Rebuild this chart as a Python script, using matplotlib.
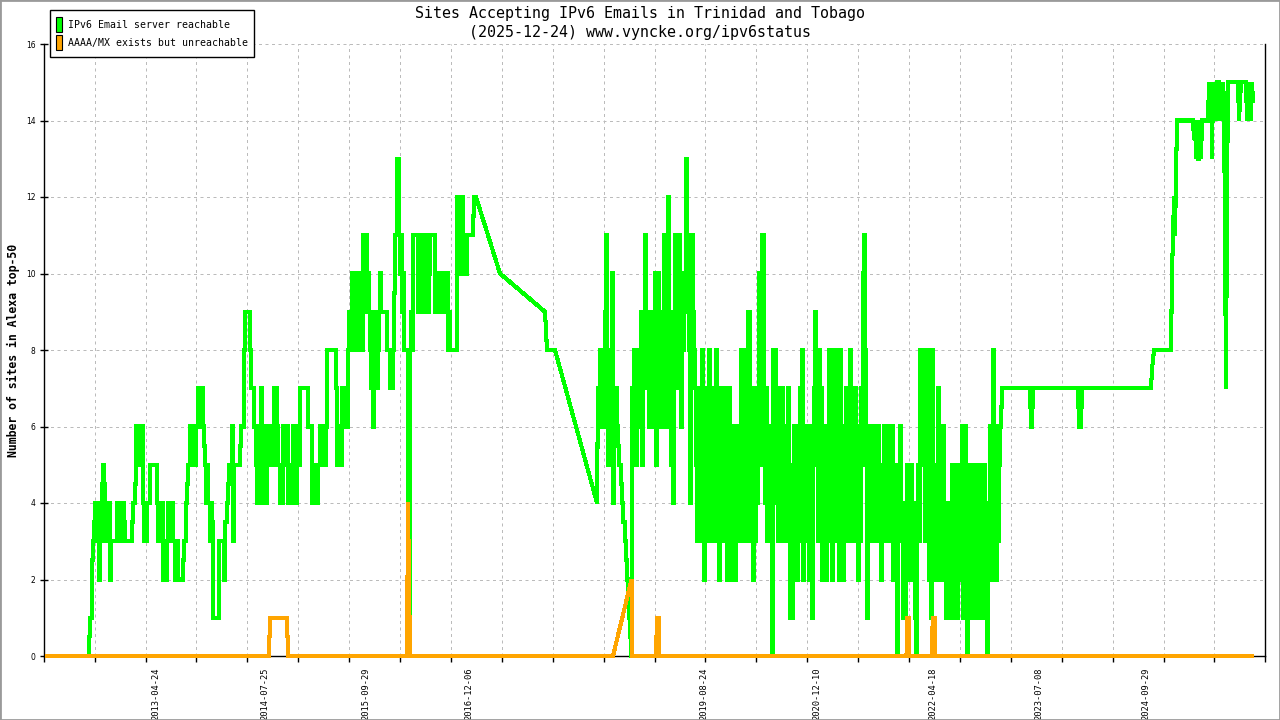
import numpy as np
import matplotlib
matplotlib.use("Agg")
import matplotlib.pyplot as plt
from matplotlib.patches import Rectangle

# ---------------- data (x positions are sample positions along the time axis) ----------------
# green: "IPv6 Email server reachable"
green_zero_x = [47, 89]
green_zero_y = [0, 0]

green_a_x0 = 90          # one sample per step, starting at position 90
green_a = [
    1, 1, 2.5, 3, 3.5, 4, 3, 4, 3, 2,
    3, 3, 4.5, 5, 4.5, 4, 3, 4, 3, 4,
    2, 3, 3, 3, 3, 3, 3, 4, 3, 4,
    3.5, 4, 3, 4, 3.5, 3, 3, 3, 3, 3,
    3, 3, 3.5, 4, 4, 4.5, 6, 5, 6, 5,
    6, 5.5, 6, 4, 3, 4, 3, 4, 4, 4,
    5, 5, 5, 5, 5, 5, 5, 4, 3, 3,
    3, 3, 4, 2, 2, 2, 2, 3, 4, 3,
    4, 4, 4, 3, 3, 2, 2, 3, 2, 2,
    2, 2, 2, 2.5, 3, 3, 4, 4.5, 5, 5,
    6, 6, 6, 5, 5, 5, 6, 6, 7, 6.5,
    7, 6, 7, 6, 5.5, 5, 4, 5, 4, 4,
    3, 4, 3.5, 1, 1, 1, 1, 1, 1, 3,
    3, 3, 3, 3, 2, 3.5, 3.5, 4, 4.5, 5,
    5, 5, 6, 3, 5, 5, 5, 5, 5, 5,
    5.5, 6, 6, 6, 8, 9, 9, 9, 9, 9,
    8, 7, 7, 7, 6, 6, 5, 4, 4, 4,
    6, 7, 6, 4, 5, 6, 4, 5, 6, 5,
    6, 5, 5, 6, 7, 5, 7, 6, 5, 5,
    4, 5, 4, 6, 5, 6, 5, 6, 4, 4,
    5, 4, 5, 6, 5, 4, 4, 5, 6, 5,
    7, 7, 7, 7, 7, 7, 7, 7, 6, 6,
    6, 6, 4, 4, 4, 4, 5, 4, 5, 5,
    6, 5, 6, 5, 6, 5, 6, 8, 8, 8,
    8, 8, 8, 8, 8, 8, 7, 5, 6, 5,
    6, 5, 7, 7, 6, 6, 6, 6, 8, 9,
    8, 9, 10, 8, 9, 8, 8, 10, 9, 10,
    8, 8, 8, 11, 10, 11, 11, 9, 10, 9,
    8, 7, 8, 6, 9, 7, 9, 7, 8, 9,
    10, 9, 9, 9, 9, 9, 9, 8, 8, 8,
    7, 7, 7, 8, 9.5, 11, 11, 13, 13, 11,
    10, 11, 9, 10, 8, 8, 8, 8, 0, 0,
    8, 9, 8, 11, 11, 11, 11, 11, 9, 11,
    11, 10, 11, 9, 11, 11, 11, 10, 9, 10,
    11, 11, 11, 11, 11, 9, 10, 9, 10, 9,
    10, 10, 9, 10, 10, 9, 9, 10, 8, 9,
    8, 8, 8, 8, 8, 8, 8, 12, 12, 10,
    12, 11, 12, 10, 11, 10, 10, 11, 11, 11,
    11, 11, 11, 11.5, 12, 12,
]

# data gap: interpolated straight segments
green_b_x = [476, 500, 545, 547, 555, 597]
green_b_y = [12, 10, 9, 8, 8, 4]

green_c_x0 = 598
green_c = [
    7, 6, 8, 6, 7, 8, 6, 9, 11, 7,
    5, 7, 8, 6, 10, 4, 7, 6, 7, 6,
    5.5, 5, 5, 4.5, 4, 3.5, 3.5, 3, 2.5, 2,
    1.5, 1, 0.5, 0, 7, 6, 8, 7, 5, 8,
    6, 7, 8, 9, 5, 8, 9, 11, 7, 9,
    8, 6, 8, 7, 9, 6, 8, 10, 5, 8,
    10, 7, 9, 6, 8, 7, 11, 9, 6, 8,
    12, 7, 9, 5, 8, 4, 9, 11, 7, 10,
    8, 11, 9, 6, 10, 8, 9, 10, 13, 9,
    11, 8, 4, 7, 11, 9, 8, 7, 5, 3,
    6, 4, 7, 3, 8, 5, 2, 6, 3, 7,
    4, 8, 5, 3, 7, 4, 6, 3, 8, 4,
    6, 2, 7, 3, 6, 5, 7, 3, 6, 2,
    5, 7, 3, 6, 2, 4, 5, 2, 6, 4,
    3, 5, 5, 8, 3, 8, 4, 7, 8, 3,
    9, 9, 5, 3, 6, 2, 7, 3, 6, 4,
    7, 10, 5, 10, 11, 11, 6, 4, 7, 3,
    6, 4, 5, 3, 0, 8, 5, 8, 4, 7,
    3, 6, 5, 3, 7, 4, 6, 3, 5, 4,
    7, 3, 1, 5, 1, 4, 6, 3, 5, 2,
    6, 4, 7, 3, 8, 2, 5, 6, 3, 4,
    6, 2, 5, 3, 1, 6, 7, 9, 5, 8,
    3, 8, 4, 7, 2, 5, 3, 6, 2, 4,
    6, 8, 3, 7, 2, 8, 4, 7, 3, 8,
    5, 2, 8, 4, 6, 2, 5, 3, 7, 3,
    6, 4, 8, 3, 5, 6, 3, 7, 4, 6,
    2, 5, 3, 7, 5, 10, 11, 8, 6, 1,
    6, 4, 6, 3, 5, 6, 4, 6, 3, 5,
    6, 3, 5, 2, 5, 3, 6, 5, 6, 3,
    5, 4, 6, 3, 6, 2, 5, 2, 4, 0,
    3, 5, 6, 3, 4, 1, 4, 1, 3, 5,
    2, 5, 3, 5, 2, 4, 3, 1, 0, 4,
    5, 3, 8, 6, 8, 5, 7, 3, 8, 4,
    7, 2, 8, 1, 8, 4, 3, 5, 2, 5,
    7, 3, 5, 2, 4, 6, 2, 4, 1, 4,
    3, 4, 1, 4, 5, 1, 4, 2, 5, 1,
    4, 5, 2, 4, 6, 1, 4, 6, 2, 0,
    4, 1, 5, 3, 4, 1, 5, 2, 4, 1,
    5, 3, 2, 5, 1, 3, 5, 4, 2, 0,
    4, 2, 6, 3, 5, 8, 2, 5, 2, 6,
    3, 5, 6, 6.5, 7,
]

green_d_x = [1003, 1030, 1031, 1032, 1033, 1078, 1079, 1081, 1082, 1151,
             1152, 1154, 1171, 1172, 1173, 1174, 1175, 1176, 1177, 1193,
             1194, 1195, 1196, 1197, 1198, 1199, 1200, 1201, 1202, 1203,
             1208, 1209, 1210, 1211, 1212, 1213, 1214, 1215, 1216, 1217,
             1219, 1220, 1221, 1222, 1223, 1224, 1225, 1226, 1227, 1228,
             1238, 1239, 1240, 1241, 1246, 1247, 1248, 1249, 1250, 1251,
             1252, 1253]
green_d_y = [7, 7, 6, 6, 7, 7, 6, 6, 7, 7,
             7.5, 8, 8, 10, 11, 12, 11, 12.5, 14, 14,
             13.5, 14, 13, 14, 13, 13, 14, 13, 14, 14,
             14, 15, 14, 15, 13, 15, 14.5, 15, 14, 15,
             15, 14, 15, 14, 15, 14.5, 11, 7, 12, 15,
             15, 14, 14.5, 15, 15, 14, 15, 14, 15, 14,
             15, 14.5]

# orange: "AAAA/MX exists but unreachable"
orange_x = [47, 269, 270, 287, 288, 407, 408, 409, 410, 613, 631.5, 632.5,
            655.5, 656, 657, 657.5, 659, 659.5, 906.5, 907, 908.5, 909, 909.5,
            931.5, 932, 933, 935, 935.5, 1252]
orange_y = [0, 0, 1, 1, 0, 0, 4, 2, 0, 0, 2, 0,
            0, 0.5, 0.5, 1, 1, 0, 0, 1, 1, 0.5, 0,
            0, 0.5, 1, 1, 0, 0]

date_labels = ["2013-04-24", "2014-07-25", "2015-09-29", "2016-12-06", "2019-08-24",
               "2020-12-10", "2022-04-18", "2023-07-08", "2024-09-29"]
date_label_pos = [156, 265, 366, 468.5, 704, 816.5, 933, 1039, 1146]

title_line1 = "Sites Accepting IPv6 Emails in Trinidad and Tobago"
title_line2 = "(2025-12-24) www.vyncke.org/ipv6status"
y_label = "Number of sites in Alexa top-50"
legend_labels = ["IPv6 Email server reachable", "AAAA/MX exists but unreachable"]

GREEN = "#00ff00"
ORANGE = "#ffa500"


def step_vertices(x0, vals):
    """Each sample holds its value for one step (like an RRD line)."""
    xs, ys = [], []
    for i, v in enumerate(vals):
        xs += [x0 + i, x0 + i + 1]
        ys += [v, v]
    return xs, ys


# ---------------- assemble series ----------------
ax_a, ay_a = step_vertices(green_a_x0, green_a)
ax_c, ay_c = step_vertices(green_c_x0, green_c)
gx = np.array(green_zero_x + ax_a + green_b_x + ax_c + green_d_x, dtype=float)
gy = np.array(green_zero_y + ay_a + green_b_y + ay_c + green_d_y, dtype=float)

# ---------------- figure ----------------
W, H = 1280, 720
fig = plt.figure(figsize=(W / 100, H / 100), dpi=100)
fig.patch.set_facecolor("white")

x_lo, x_hi = 43.7, 1265.3
ax_top, ax_bot = 44, 656
ax = fig.add_axes([x_lo / W, 1 - ax_bot / H, (x_hi - x_lo) / W, (ax_bot - ax_top) / H])
ax.set_xlim(x_lo, x_hi)
ax.set_ylim(0, 16)

mono = "DejaVu Sans Mono"

# grid / ticks
grid_step = (x_hi - x_lo) / 24
ax.set_xticks([x_lo + grid_step * k for k in range(25)])
ax.set_xticklabels([])
ax.set_xticks(date_label_pos, minor=True)
ax.set_xticklabels(date_labels, minor=True, rotation=90, fontfamily=mono, fontsize=6.3)
ax.tick_params(axis="x", which="major", direction="out", length=4.3, width=1.0, color="black")
ax.tick_params(axis="x", which="minor", length=0, pad=8)

ax.set_yticks(range(0, 17, 2))
ax.set_yticklabels([str(v) for v in range(0, 17, 2)], fontfamily="DejaVu Sans", fontsize=5.5)
ax.tick_params(axis="y", which="major", direction="inout", length=6, width=1.0, pad=3)

ax.grid(True, which="major", color="#bbbbbb", linestyle=(0, (3, 3.5)), linewidth=0.72)
ax.set_axisbelow(True)

for s in ["left", "bottom", "right"]:
    ax.spines[s].set_color("black")
    ax.spines[s].set_linewidth(1.0)
ax.spines["top"].set_visible(False)

ax.plot(gx, gy, color=GREEN, linewidth=2.2, antialiased=False, clip_on=False, zorder=3,
        solid_joinstyle="miter")
ax.plot(orange_x, orange_y, color=ORANGE, linewidth=2.2, antialiased=False, clip_on=False,
        zorder=4, solid_joinstyle="miter")

# titles and label
fig.text(640 / W, 1 - 13.5 / H, title_line1, ha="center", va="center", fontfamily=mono, fontsize=10.8)
fig.text(640 / W, 1 - 32.5 / H, title_line2, ha="center", va="center", fontfamily=mono, fontsize=10.8)
fig.text(13 / W, 1 - 350 / H, y_label, ha="center", va="center", rotation=90,
         fontfamily=mono, fontweight="bold", fontsize=8.3)

# legend (drawn manually to match the original placement)
fig.add_artist(Rectangle((50.3 / W, 1 - 57 / H), 204 / W, 46.7 / H, transform=fig.transFigure,
                         facecolor="white", edgecolor="black", linewidth=1.0, zorder=5))
for i, (lab, col) in enumerate(zip(legend_labels, [GREEN, ORANGE])):
    ytop = 17.3 + i * 17.4
    fig.add_artist(Rectangle((56 / W, 1 - (ytop + 15) / H), 6.3 / W, 15 / H, transform=fig.transFigure,
                             facecolor=col, edgecolor="black", linewidth=0.8, zorder=6))
    fig.text(67.7 / W, 1 - (ytop + 8) / H, lab, ha="left", va="center", fontfamily=mono,
             fontsize=7.15, zorder=7)

# outer border
fig.add_artist(Rectangle((0, 0), 1, 1, transform=fig.transFigure, facecolor="none",
                         edgecolor="#9a9a9a", linewidth=2.0, zorder=10))

fig.savefig("out.png", dpi=100)
